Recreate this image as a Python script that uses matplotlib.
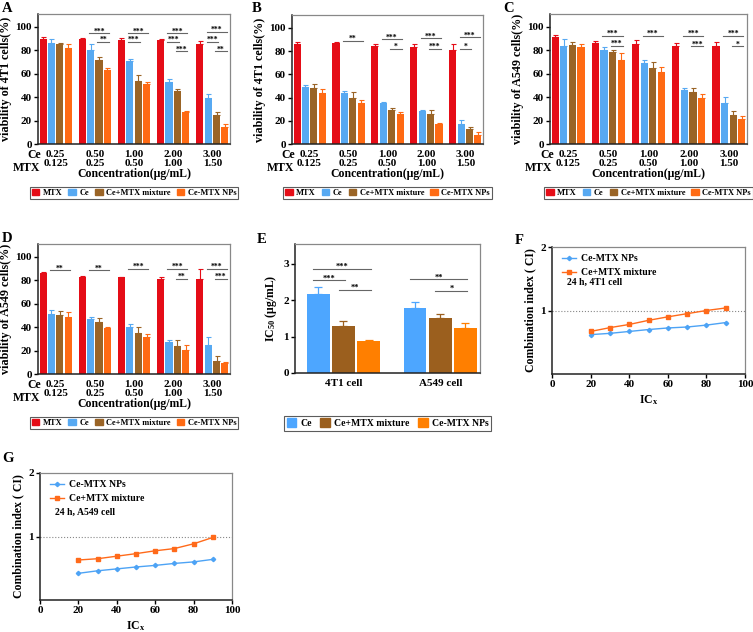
import numpy as np
import matplotlib
matplotlib.use('Agg')
import matplotlib.pyplot as plt
from matplotlib.patches import Patch

plt.rcParams['font.family'] = ['Liberation Serif', 'DejaVu Serif']
plt.rcParams['font.weight'] = 'bold'
plt.rcParams['axes.labelweight'] = 'bold'
plt.rcParams['mathtext.fontset'] = 'custom'
plt.rcParams['mathtext.rm'] = 'Liberation Serif:bold'
plt.rcParams['mathtext.it'] = 'Liberation Serif:bold'

# categories
groups = ['0.25\n0.125', '0.50\n0.25', '1.00\n0.50', '2.00\n1.00', '3.00\n1.50']
series = ['MTX', 'Ce', 'Ce+MTX mixture', 'Ce-MTX NPs']
colors = ['#E50D17', '#57A9F2', '#9A6426', '#FF6A13']

# panel A: 4T1, viability
a_mtx = [90, 89.5, 88.5, 88.5, 85.5]
a_ce = [86.5, 80, 71, 53, 39.5]
a_mix = [85, 71.5, 54, 45.5, 25]
a_nps = [82, 63, 51, 27, 14.5]
a_err = [[1.5, 1.2, 2, 1.5, 2.5], [3.5, 5.5, 2, 2.5, 3.5], [1.5, 2.5, 5, 1.5, 2.5], [3, 2, 2, 1.5, 3]]
a_sig = [(1, 1, 3, 95, '***'), (1, 2, 3, 87.5, '**'), (2, 1, 3, 95, '***'), (2, 1, 2, 87.5, '***'),
         (3, 1, 3, 95, '***'), (3, 1, 2, 87.5, '***'), (3, 2, 3, 79.5, '***'),
         (4, 1, 3, 96, '***'), (4, 1, 2, 87.5, '***'), (4, 2, 3, 79.5, '**')]

# panel B: 4T1
b_mtx = [86, 86.5, 84.5, 83.5, 80.5]
b_ce = [49, 43.5, 35, 28.5, 17.5]
b_mix = [48, 40, 29, 25.5, 12.5]
b_nps = [44, 35, 26, 17.5, 8]
b_err = [[1.5, 1.5, 1.5, 2.5, 5.5], [1.5, 2, 1.5, 1, 3.5], [4, 5, 2, 3.5, 2.5], [3.5, 3, 1.5, 1, 2.5]]
b_sig = [(1, 1, 3, 89, '**'), (2, 1, 3, 90, '***'), (2, 2, 3, 82, '*'),
         (3, 1, 3, 91, '***'), (3, 2, 3, 82, '***'), (4, 1, 3, 92, '***'), (4, 1, 2, 82, '*')]

# panel C: A549
c_mtx = [91.5, 86.5, 85.5, 84, 83.5]
c_ce = [84, 80.5, 69.5, 46, 35]
c_mix = [84.5, 78.5, 65, 44, 24.5]
c_nps = [83, 72, 61.5, 39, 21.5]
c_err = [[1.5, 1.5, 3, 2, 3.5], [5.5, 2, 2.5, 1.5, 5], [3, 1.5, 5, 4, 4], [2.5, 5.5, 4.5, 4, 2.5]]
c_sig = [(1, 1, 3, 92.5, '***'), (1, 2, 3, 84, '***'), (2, 1, 3, 92.5, '***'),
         (3, 1, 3, 92.5, '***'), (3, 2, 3, 83.5, '***'), (4, 1, 3, 92.5, '***'), (4, 2, 3, 83.5, '*')]

# panel D: A549
d_mtx = [86.5, 83, 82.5, 81.5, 81]
d_ce = [51, 47, 40.5, 27, 24.5]
d_mix = [50, 44.5, 35, 23.5, 11.5]
d_nps = [48.5, 39, 31.5, 20.5, 9]
d_err = [[1, 1, 0.5, 1, 8.5], [4, 2, 2, 2, 7.5], [3.5, 3, 5.5, 5.5, 4], [4.5, 1.5, 3, 4, 1]]
d_sig = [(0, 1, 3, 89, '**'), (1, 1, 3, 89, '**'), (2, 1, 3, 90, '***'),
         (3, 1, 3, 90, '***'), (3, 2, 3, 81.5, '**'), (4, 1, 3, 90, '***'), (4, 2, 3, 81.5, '***')]

# panel E: IC50
e_cells = ['4T1 cell', 'A549 cell']
e_series = ['Ce', 'Ce+MTX mixture', 'Ce-MTX NPs']
e_colors = ['#4DA6FF', '#9B5F1E', '#FF7F00']
e_ce = [2.17, 1.8]
e_mix = [1.3, 1.5]
e_nps = [0.88, 1.25]
e_err = [[0.2, 0.15], [0.13, 0.12], [0.03, 0.12]]
e_sig = [(0, 0, 2, 2.87, '***'), (0, 0, 1, 2.56, '***'), (0, 1, 2, 2.29, '**'),
         (1, 0, 2, 2.58, '**'), (1, 1, 2, 2.27, '*')]

# panels F, G: combination index
icx = [20, 30, 40, 50, 60, 70, 80, 90]
f_nps = [0.62, 0.64, 0.67, 0.70, 0.725, 0.74, 0.77, 0.81]
f_mix = [0.67, 0.73, 0.78, 0.845, 0.90, 0.95, 1.0, 1.04]
g_nps = [0.42, 0.46, 0.49, 0.52, 0.545, 0.576, 0.60, 0.64]
g_mix = [0.63, 0.65, 0.69, 0.73, 0.775, 0.81, 0.885, 0.985]

W, H = 753, 632
fig = plt.figure(figsize=(W / 100, H / 100), dpi=100)


def add_ax(l, r, t, b):
    return fig.add_axes([l / W, 1 - b / H, (r - l) / W, (b - t) / H])


def style(ax, size=8):
    for s in ['left', 'bottom']:
        ax.spines[s].set_linewidth(1.1)
        ax.spines[s].set_color('#222222')
    for s in ['top', 'right']:
        ax.spines[s].set_linewidth(0.9)
        ax.spines[s].set_color('#888888')
    ax.tick_params(labelsize=size, width=1, length=3, pad=1.5)


offs = (np.arange(4) - 1.5) * 0.214


def legend_box(leg):
    leg.get_frame().set_edgecolor('#333333')
    leg.get_frame().set_linewidth(0.8)


def bar_panel(ax, vals, errs, sigs, ylabel):
    x = np.arange(len(groups))
    for j, (v, e) in enumerate(zip(vals, errs)):
        ax.bar(x + offs[j], v, 0.18, color=colors[j], yerr=[np.zeros(len(e)), e],
               error_kw=dict(ecolor=colors[j], capsize=1.8, elinewidth=0.8, capthick=0.8))
    for g, j0, j1, y, lab in sigs:
        x0, x1 = g + offs[j0] - 0.04, g + offs[j1] + 0.04
        ax.plot([x0, x1], [y, y], color='#666666', lw=0.8)
        ax.text((x0 + x1) / 2, y - 0.5, lab, ha='center', va='baseline', fontsize=5.5, fontweight='bold')
    ax.set_xlim(-0.45, 4.45)
    ax.set_ylim(0, 111)
    ax.set_yticks([0, 20, 40, 60, 80, 100])
    ax.set_xticks(x)
    ax.set_xticklabels(groups, fontsize=8.5, linespacing=1.1)
    style(ax)
    ax.tick_params(axis='x', length=0, pad=4)
    ax.text(0.018, -0.088, 'Ce', transform=ax.transAxes, ha='right', va='center', fontsize=8.5, fontweight='bold')
    ax.text(0.012, -0.183, 'MTX', transform=ax.transAxes, ha='right', va='center', fontsize=8.5, fontweight='bold')
    ax.set_xlabel('Concentration(μg/mL)', fontsize=8.5, labelpad=0)
    ax.set_ylabel(ylabel, fontsize=8.7, labelpad=2)
    handles = [Patch(color=c, label=s) for c, s in zip(colors, series)]
    leg = ax.legend(handles=handles, loc='upper center', bbox_to_anchor=(0.5, -0.33), ncol=4,
                    fontsize=6, frameon=True, fancybox=False, handlelength=0.9, handleheight=0.8,
                    columnspacing=0.75, handletextpad=0.4, borderpad=0.25, borderaxespad=0)
    legend_box(leg)


axA = add_ax(38, 230, 14, 144)
bar_panel(axA, [a_mtx, a_ce, a_mix, a_nps], a_err, a_sig, 'viability of 4T1 cells(%)')
axB = add_ax(292, 483, 15, 144)
bar_panel(axB, [b_mtx, b_ce, b_mix, b_nps], b_err, b_sig, 'viability of 4T1 cells(%)')
axC = add_ax(550, 747, 14, 144)
bar_panel(axC, [c_mtx, c_ce, c_mix, c_nps], c_err, c_sig, 'viability of A549 cells(%)')
axD = add_ax(38, 230, 244, 374)
bar_panel(axD, [d_mtx, d_ce, d_mix, d_nps], d_err, d_sig, 'viability of A549 cells(%)')

# E
axE = add_ax(295, 480, 244, 373)
eoffs = np.array([-1, 0, 1]) * 0.26
xe = np.arange(len(e_cells))
for j, (v, e) in enumerate(zip([e_ce, e_mix, e_nps], e_err)):
    axE.bar(xe + eoffs[j], v, 0.235, color=e_colors[j], yerr=[np.zeros(len(e)), e],
            error_kw=dict(ecolor=e_colors[j], capsize=3, elinewidth=0.9, capthick=0.9))
for g, j0, j1, y, lab in e_sig:
    x0, x1 = g + eoffs[j0] - 0.05, g + eoffs[j1] + 0.02
    axE.plot([x0, x1], [y, y], color='#666666', lw=0.8)
    axE.text((x0 + x1) / 2, y - 0.01, lab, ha='center', va='baseline', fontsize=6, fontweight='bold')
axE.set_xlim(-0.5, 1.41)
axE.set_ylim(0, 3.55)
axE.set_yticks([0, 1, 2, 3])
axE.set_xticks(xe)
axE.set_xticklabels(e_cells, fontsize=9)
axE.set_ylabel('IC$_{50}$ (μg/mL)', fontsize=8.5, labelpad=3)
style(axE)
axE.tick_params(axis='x', length=0, pad=4)
leg = axE.legend(handles=[Patch(color=c, label=s) for c, s in zip(e_colors, e_series)],
                 loc='upper center', bbox_to_anchor=(0.5, -0.33), ncol=3, fontsize=7,
                 frameon=True, fancybox=False, handlelength=1.0, handleheight=1.0,
                 columnspacing=0.9, handletextpad=0.4, borderpad=0.3, borderaxespad=0)
legend_box(leg)


def ci_panel(ax, nps, mix, note, note_y):
    ax.axhline(1, color='#888888', lw=0.8, ls=':')
    ax.plot(icx, nps, color='#4DA3F5', marker='D', ms=2.2, lw=1, label='Ce-MTX NPs')
    ax.plot(icx, mix, color='#FF6A1A', marker='s', ms=2.5, lw=1, label='Ce+MTX mixture')
    ax.set_xlim(0, 100)
    ax.set_ylim(0, 2)
    ax.set_xticks([0, 20, 40, 60, 80, 100])
    ax.set_yticks([1, 2])
    ax.set_xlabel('IC$_x$', fontsize=8.5, labelpad=3)
    ax.set_ylabel('Combination index ( CI)', fontsize=8.5, labelpad=3)
    style(ax)
    ax.legend(loc='upper left', bbox_to_anchor=(0.02, 0.99), frameon=False, fontsize=7,
              handlelength=1.5, handletextpad=0.5, labelspacing=0.5, borderaxespad=0.2)
    ax.text(0.08, note_y, note, transform=ax.transAxes, fontsize=7, fontweight='bold', va='center')


axF = add_ax(552, 745, 247, 374)
ci_panel(axF, f_nps, f_mix, '24 h, 4T1 cell', 0.72)
axG = add_ax(40, 232, 473, 600)
ci_panel(axG, g_nps, g_mix, '24 h, A549 cell', 0.69)

for lab, x, y in [('A', 2, 2), ('B', 252, 2), ('C', 503, 2), ('D', 2, 232),
                  ('E', 257, 233), ('F', 515, 234), ('G', 2, 452)]:
    fig.text(x / W, 1 - y / H, lab, fontsize=10.5, fontweight='bold', va='top', ha='left')

fig.savefig('out.png', dpi=100)
